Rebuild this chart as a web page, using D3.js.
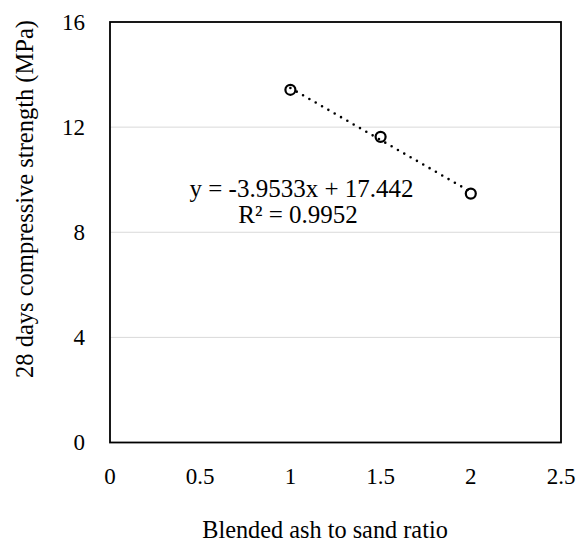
<!DOCTYPE html>
<html>
<head>
<meta charset="utf-8">
<title>Compressive strength vs ash to sand ratio</title>
<script src="https://cdn.jsdelivr.net/npm/d3@7"></script>
<style>
body { margin: 0; background: #fff; }
text { font-family: "Liberation Serif", "DejaVu Serif", serif; fill: #000; }
</style>
</head>
<body>
<div id="chart"></div>
<script>
// data
var ratio = [1, 1.5, 2];
var strength = [13.42, 11.63, 9.47];
var xTicks = [0, 0.5, 1, 1.5, 2, 2.5];
var yTicks = [0, 4, 8, 12, 16];
var slope = -3.9533, intercept = 17.442;
var eqLines = ["y = -3.9533x + 17.442", "R² = 0.9952"];

var width = 576, height = 548;
var margin = {top: 22, right: 15, bottom: 105.5, left: 110};

var svg = d3.select("#chart").append("svg")
    .attr("width", width)
    .attr("height", height);

var x = d3.scaleLinear().domain([0, 2.5]).range([margin.left, width - margin.right]);
var y = d3.scaleLinear().domain([0, 16]).range([height - margin.bottom, margin.top]);

// gridlines
svg.append("g").selectAll("line")
    .data(yTicks.filter(function(d) { return d > 0 && d < 16; }))
    .enter().append("line")
    .attr("x1", x(0)).attr("x2", x(2.5))
    .attr("y1", function(d) { return y(d); })
    .attr("y2", function(d) { return y(d); })
    .attr("stroke", "#d9d9d9")
    .attr("stroke-width", 1);

// frame
svg.append("rect")
    .attr("x", x(0)).attr("y", y(16))
    .attr("width", x(2.5) - x(0))
    .attr("height", y(0) - y(16))
    .attr("fill", "none")
    .attr("stroke", "#000")
    .attr("stroke-width", 1.8);

// tick labels
svg.append("g").selectAll("text")
    .data(yTicks).enter().append("text")
    .attr("x", 85)
    .attr("y", function(d) { return y(d); })
    .attr("dy", "0.33em")
    .attr("text-anchor", "end")
    .style("font-size", "23px")
    .text(function(d) { return d; });

svg.append("g").selectAll("text")
    .data(xTicks).enter().append("text")
    .attr("x", function(d) { return x(d); })
    .attr("y", 476)
    .attr("dy", "0.33em")
    .attr("text-anchor", "middle")
    .style("font-size", "23px")
    .text(function(d) { return d; });

// axis titles
svg.append("text")
    .attr("x", 325)
    .attr("y", 538)
    .attr("text-anchor", "middle")
    .style("font-size", "24.3px")
    .text("Blended ash to sand ratio");

svg.append("text")
    .attr("transform", "translate(25,199) rotate(-90)")
    .attr("dy", "0.33em")
    .attr("text-anchor", "middle")
    .style("font-size", "24.5px")
    .text("28 days compressive strength (MPa)");

// linear trendline
svg.append("line")
    .attr("x1", x(1)).attr("y1", y(slope * 1 + intercept))
    .attr("x2", x(2)).attr("y2", y(slope * 2 + intercept))
    .attr("stroke", "#000")
    .attr("stroke-width", 2.6)
    .attr("stroke-linecap", "round")
    .attr("stroke-dasharray", "0 7.3");

// markers
svg.append("g").selectAll("circle")
    .data(ratio).enter().append("circle")
    .attr("cx", function(d) { return x(d); })
    .attr("cy", function(d, i) { return y(strength[i]); })
    .attr("r", 5)
    .attr("fill", "none")
    .attr("stroke", "#000")
    .attr("stroke-width", 2.2);

// equation
svg.append("text")
    .attr("x", 301.5).attr("y", 197)
    .attr("text-anchor", "middle")
    .style("font-size", "25px")
    .text(eqLines[0]);
svg.append("text")
    .attr("x", 298).attr("y", 223)
    .attr("text-anchor", "middle")
    .style("font-size", "25px")
    .text(eqLines[1]);
</script>
</body>
</html>
